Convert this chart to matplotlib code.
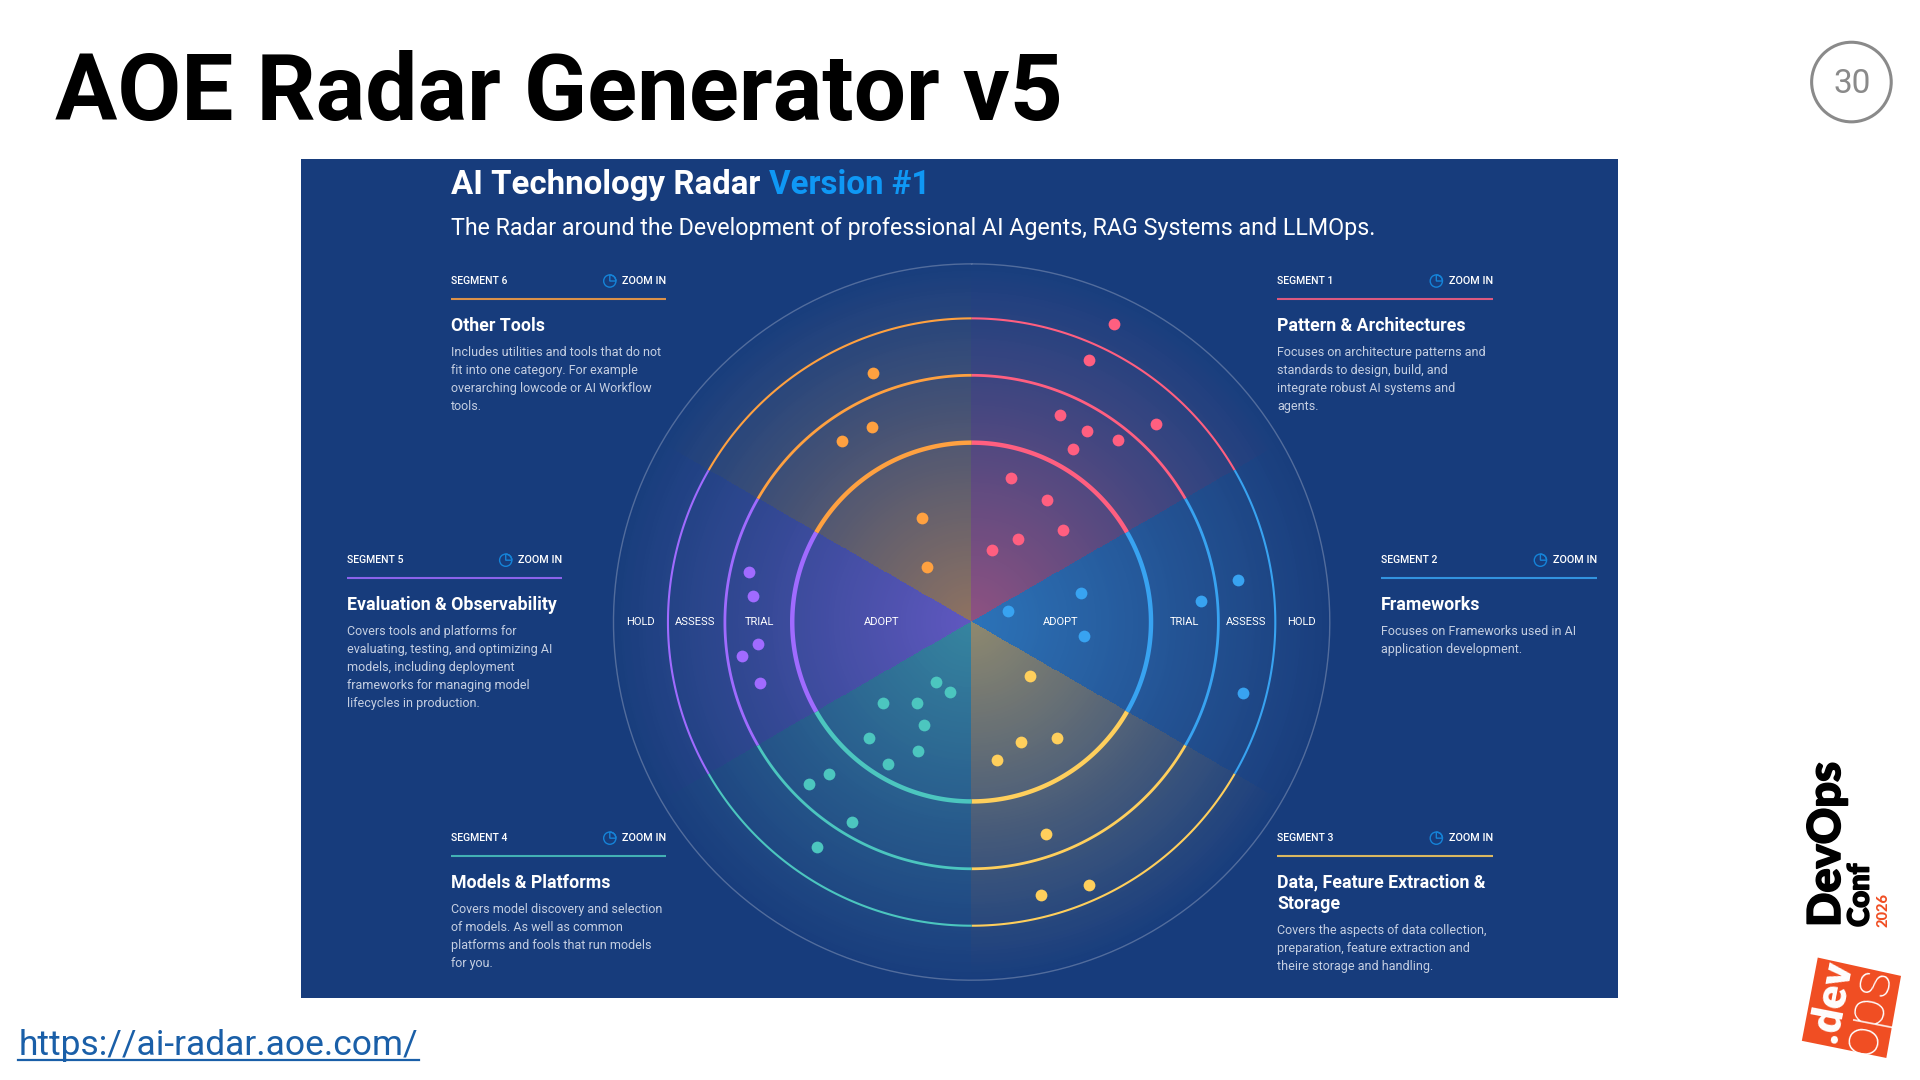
import numpy as np
import matplotlib
matplotlib.use('Agg')
import matplotlib.pyplot as plt
import matplotlib.patheffects as pe
from matplotlib.patches import Rectangle, Circle, Polygon, Wedge

plt.rcParams['font.family'] = ['Roboto', 'DejaVu Sans']

# segment info, clockwise from the top
seg_names = ['Pattern & Architectures', 'Frameworks', 'Data, Feature Extraction &\nStorage',
             'Models & Platforms', 'Evaluation & Observability', 'Other Tools']
seg_desc = [
    ['Focuses on architecture patterns and', 'standards to design, build, and',
     'integrate robust AI systems and', 'agents.'],
    ['Focuses on Frameworks used in AI', 'application development.'],
    ['Covers the aspects of data collection,', 'preparation, feature extraction and',
     'theire storage and handling.'],
    ['Covers model discovery and selection', 'of models. As well as common',
     'platforms and fools that run models', 'for you.'],
    ['Covers tools and platforms for', 'evaluating, testing, and optimizing AI',
     'models, including deployment', 'frameworks for managing model', 'lifecycles in production.'],
    ['Includes utilities and tools that do not', 'fit into one category. For example',
     'overarching lowcode or AI Workflow', 'tools.'],
]
seg_colors = ['#ff5f80', '#38a3f1', '#ffcf5c', '#4cc6bf', '#a06bff', '#ffa140']
seg_panel_x = [1043, 1128, 1043, 368, 283, 368]
seg_panel_y = [229, 457, 684, 684, 457, 229]

# blips per segment (shrunk 1568 wide coordinates)
blips_x = [
    [910, 889, 866, 888, 876, 913, 944, 826, 855, 868, 831, 810],
    [1011, 981, 883, 823, 885, 1015],
    [841, 863, 834, 814, 854, 889, 850],
    [764, 776, 721, 749, 755, 710, 750, 725, 677, 661, 696, 667],
    [612, 615, 619, 606, 621],
    [713, 712, 688, 753, 757],
]
blips_y = [
    [265, 294, 339, 352, 367, 359, 346, 390, 408, 433, 440, 449],
    [474, 491, 484, 499, 519, 566],
    [552, 603, 606, 621, 681, 723, 731],
    [557, 565, 574, 574, 592, 603, 613, 624, 632, 640, 671, 692],
    [467, 487, 526, 536, 558],
    [305, 349, 360, 423, 463],
]

ring_radius = [146.5, 201.5, 248, 292.5]
ring_width = [3.2, 2.0, 1.5]
ring_labels = ['HOLD', 'ASSESS', 'TRIAL', 'ADOPT', 'ADOPT', 'TRIAL', 'ASSESS', 'HOLD']
ring_label_x = [523, 568, 620, 720, 866, 967, 1018, 1063]

cx, cy = 793.5, 508
bg = '#173c7c'

fig = plt.figure(figsize=(19.2, 10.8), dpi=100, facecolor='white')
ax = fig.add_axes([0, 0, 1, 1])
ax.set_xlim(0, 1568)
ax.set_ylim(882, 0)
ax.axis('off')

# slide title etc
ax.text(45, 77, 'AOE Radar Generator v5', fontsize=66.7, fontweight='bold', color='black', va='center')
ax.add_patch(Circle((1512, 67), 32.5, fill=False, ec='#8a8a8a', lw=2.2))
ax.text(1512.5, 68.5, '30', fontsize=24, color='#8a8a8a', ha='center', va='center')
ax.text(15, 854, 'https://ai-radar.aoe.com/', fontsize=25.5, color='#1a5fa8', va='center')
ax.plot([15, 342], [866, 866], color='#1a5fa8', lw=1.6)

# the radar screenshot
panel = Rectangle((246, 130), 1075, 685, fc=bg, ec='none', zorder=1)
ax.add_patch(panel)

# wedges with radial fade
gx, gy = np.meshgrid(np.linspace(cx - 300, cx + 300, 1500), np.linspace(cy - 300, cy + 300, 1500))
dist = np.hypot(gx - cx, gy - cy)
ang = np.degrees(np.arctan2(gx - cx, cy - gy)) % 360
idx = (ang // 60).astype(int) % 6
rgba = np.zeros(gx.shape + (4,))
for i, c in enumerate(seg_colors):
    rgba[idx == i, :3] = matplotlib.colors.to_rgb(c)
rgba[..., 3] = np.clip(0.5 * (1 - dist / 292.5) ** 1.15, 0, 1) * (dist < 292.5)
glow = np.zeros_like(rgba)
glow[..., :3] = 1
glow[..., 3] = 0.05 * np.clip(1 - dist / 292.5, 0, 1) ** 0.3 * (dist < 292.5)
ext = [cx - 300, cx + 300, cy + 300, cy - 300]
ax.imshow(glow, extent=ext, zorder=2, interpolation='bilinear', aspect='auto')
ax.imshow(rgba, extent=ext, zorder=2, interpolation='nearest', aspect='auto')
ax.set_xlim(0, 1568)
ax.set_ylim(882, 0)

# rings
for r, w in zip(ring_radius[:3], ring_width):
    for i, c in enumerate(seg_colors):
        t = np.radians(np.linspace(i * 60, (i + 1) * 60, 80))
        ax.plot(cx + r * np.sin(t), cy - r * np.cos(t), color=c, lw=w, zorder=3, solid_capstyle='butt')
t = np.linspace(0, 2 * np.pi, 400)
ax.plot(cx + ring_radius[3] * np.sin(t), cy - ring_radius[3] * np.cos(t), color='#8d9dbd', lw=1.0, alpha=0.5, zorder=3)

for lab, x in zip(ring_labels, ring_label_x):
    ax.text(x, 508, lab, color='white', fontsize=8, ha='center', va='center', zorder=5)

for bx, by, c in zip(blips_x, blips_y, seg_colors):
    ax.scatter(bx, by, s=72, color=c, linewidths=0, zorder=4)

# header
ax.text(368, 151, 'AI Technology Radar', color='white', fontsize=23.8, fontweight='bold', va='center', zorder=5)
ax.text(628, 151, 'Version #1', color='#0f98f5', fontsize=23.8, fontweight='bold', va='center', zorder=5)
ax.text(368, 186.5, 'The Radar around the Development of professional AI Agents, RAG Systems and LLMOps.',
        color='white', fontsize=16.78, va='center', zorder=5)

# side panels
for i in range(6):
    x0, y0 = seg_panel_x[i], seg_panel_y[i]
    ax.text(x0, y0 + 0.7, 'SEGMENT %d' % (i + 1), color='white', fontsize=7.6, fontweight='medium', va='center', zorder=5)
    ax.text(x0 + 176, y0 + 0.7, 'ZOOM IN', color='white', fontsize=7.8, fontweight='medium', va='center', ha='right', zorder=5)
    ax.add_patch(Circle((x0 + 130, y0 + 0.5), 5, fill=False, ec='#1583d8', lw=1, zorder=5))
    ax.add_patch(Wedge((x0 + 130, y0 + 0.5), 5, 270, 360, fill=False, ec='#1583d8', lw=1, zorder=5))
    ax.plot([x0, x0 + 176], [y0 + 15, y0 + 15], color=seg_colors[i], lw=1.5, alpha=0.85, zorder=5,
            solid_capstyle='butt')
    lines = seg_names[i].split('\n')
    y = y0 + 37
    for ln in lines:
        ax.text(x0, y, ln, color='white', fontsize=12.8, fontweight='bold', va='center', zorder=5)
        y += 17.3
    y = y - 17.3 + 22
    for ln in seg_desc[i]:
        ax.text(x0, y, ln, color='#c5cfe2', fontsize=8.98, va='center', zorder=5)
        y += 14.6

# logos on the right
thick = [pe.withStroke(linewidth=1.2, foreground='black')]
ax.text(1492, 757, 'DevOps', rotation=90, fontsize=32.5, fontweight='black', family='Lato', color='black',
        ha='center', va='bottom', zorder=5, path_effects=thick)
ax.text(1519.5, 757, 'Conf', rotation=90, fontsize=21, fontweight='black', family='Lato', color='black',
        ha='center', va='bottom', zorder=5, path_effects=thick)
ax.text(1538.5, 757, '2026', rotation=90, fontsize=10.5, fontweight='black', family='Lato', color='#f04e23',
        ha='center', va='bottom', zorder=5)
logo = Polygon([(1484.5, 782), (1552.5, 797), (1540.5, 864), (1471.5, 850)], fc='#f04e23', ec='none', zorder=5)
ax.add_patch(logo)
ax.text(1496, 818, '.dev', rotation=79, fontsize=31, fontweight='black', color='white',
        ha='center', va='center', zorder=6)
ax.text(1525, 825, 'ops', rotation=79, fontsize=40, fontweight='light', color='white', ha='center', va='center', zorder=6)

fig.savefig('out.png', dpi=100)
